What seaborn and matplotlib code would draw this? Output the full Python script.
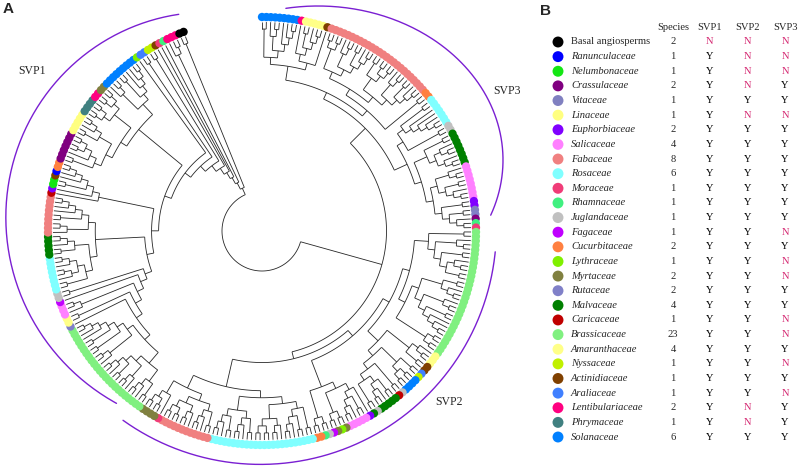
import numpy as np
import pandas as pd
import matplotlib
matplotlib.use("Agg")
import matplotlib.pyplot as plt
from matplotlib.collections import LineCollection
import seaborn as sns

sns.set_style("white")
plt.rcParams["font.family"] = ["Liberation Serif", "DejaVu Serif"]

# ---- legend table (panel B) ----
families = ["Basal angiosperms", "Ranunculaceae", "Nelumbonaceae", "Crassulaceae", "Vitaceae",
            "Linaceae", "Euphorbiaceae", "Salicaceae", "Fabaceae", "Rosaceae", "Moraceae",
            "Rhamnaceae", "Juglandaceae", "Fagaceae", "Cucurbitaceae", "Lythraceae", "Myrtaceae",
            "Rutaceae", "Malvaceae", "Caricaceae", "Brassicaceae", "Amaranthaceae", "Nyssaceae",
            "Actinidiaceae", "Araliaceae", "Lentibulariaceae", "Phrymaceae", "Solanaceae"]
codes = ["BA", "Ra", "Ne", "Cr", "Vi", "Li", "Eu", "Sa", "Fa", "Ro", "Mo", "Rh", "Ju", "Fg",
         "Cu", "Ly", "My", "Ru", "Ma", "Ca", "Br", "Am", "Ny", "Ac", "Ar", "Le", "Ph", "So"]
colors = ["#000000", "#0000ff", "#14e614", "#800080", "#8080c0", "#ffff80", "#8000ff", "#ff80ff",
          "#f08080", "#80ffff", "#f03c78", "#40f080", "#c0c0c0", "#c000ff", "#ff8040", "#80f000",
          "#808040", "#8080c8", "#008000", "#c00000", "#80f080", "#ffff88", "#c0f000", "#804000",
          "#4080ff", "#ff0080", "#408080", "#0080ff"]
species = [2, 1, 1, 2, 1, 1, 2, 4, 8, 6, 1, 1, 1, 1, 2, 1, 2, 2, 4, 1, 23, 4, 1, 1, 1, 2, 1, 6]
svp1 = list("NYYYYYYYYYYYYYYYYYYYYYYYYYYY")
svp2 = list("NNNNYNYYYYYYYYYYYYYYYYYYYNNY")
svp3 = list("NNNYYNYYYYYYYNYNNYYNNYNYNYYY")

# ---- tree topology (tips clockwise from 12 o'clock) ----
def j(*parts):
    return "(" + ",".join(parts) + ")"

# SVP3 clade
So9 = "((So,So),((So,(So,So)),(So,(So,(So,So)))))"
LeAmAc = "((Le,((Am,Am),(Am,(Am,Am)))),Ac)"
Fa12a = "(((Fa,Fa),(Fa,Fa)),((Fa,(Fa,Fa)),((Fa,Fa),(Fa,(Fa,Fa)))))"
Fa14a = "(((Fa,Fa),((Fa,Fa),(Fa,Fa))),((Fa,(Fa,Fa)),((Fa,Fa),(Fa,(Fa,Fa)))))"
Ro7 = "((Ro,Ro),(Ro,(Ro,(Ro,(Ro,Ro)))))"
Ma8 = "((Ma,Ma),((Ma,(Ma,Ma)),(Ma,(Ma,Ma))))"
Sa8 = "((Sa,(Sa,Sa)),((Sa,Sa),(Sa,(Sa,Sa))))"
tail3 = "((Eu,Eu),((Vi,Ru),(Cr,(Rh,Mo))))"
clade3 = j(j(j(So9, LeAmAc), j(j(Fa12a, Fa14a), "(Cu,Cu)")),
           j(j(Ro7, "(Ju,Ju)"), j(Ma8, j(Sa8, tail3))))

# SVP2 clade
Br12 = "((Br,Br),((Br,(Br,Br)),((Br,Br),((Br,(Br,Br)),(Br,Br)))))"
Br14 = "(((Br,Br),(Br,(Br,Br))),((Br,(Br,Br)),((Br,Br),(Br,(Br,(Br,Br))))))"
Br4 = "((Br,Br),(Br,Br))"
AmAc = "((Am,(Am,Am)),(Ac,Ac))"
ArSo = "((Ar,Ny),((So,So),(So,So)))"
JuMa = "((Ju,Ca),(((Ma,Ma),(Ma,(Ma,Ma))),(Ju,Ma)))"
EuSa = "((Eu,((Sa,Sa),(Sa,(Sa,Sa)))),((My,Ly),(My,Fg)))"
JuCu = "((Ju,Rh),(Cu,Cu))"
Ro14 = "(((Ro,Ro),((Ro,Ro),(Ro,(Ro,Ro)))),((Ro,(Ro,Ro)),((Ro,Ro),(Ro,Ro))))"
Ro10 = "(((Ro,Ro),(Ro,(Ro,Ro))),((Ro,Ro),(Ro,(Ro,Ro))))"
Fa12b = "(((Fa,Fa),(Fa,(Fa,Fa))),((Fa,(Fa,Fa)),((Fa,Fa),(Fa,Fa))))"
MoMy = "(Mo,((My,My),(My,My)))"
clade2 = j(j(j(j(Br12, j(Br14, Br4)), j(AmAc, j(ArSo, JuMa))), j(EuSa, JuCu)),
           j(j(Ro14, Ro10), j(Fa12b, MoMy)))

# SVP1 clade (a ladder ending with basal angiosperms)
Br13 = "(((Br,Br),(Br,(Br,Br))),((Br,(Br,Br)),((Br,Br),(Br,(Br,Br)))))"
Br11 = "((Br,(Br,Br)),((Br,Br),((Br,Br),(Br,(Br,(Br,Br))))))"
Ro8 = "((Ro,Ro),((Ro,(Ro,Ro)),(Ro,(Ro,Ro))))"
Ma5 = "((Ma,Ma),(Ma,(Ma,Ma)))"
Fa9 = "((Fa,(Fa,Fa)),((Fa,Fa),(Fa,(Fa,(Fa,Fa)))))"
CaCu = "(Ca,(Eu,((Ne,Ne),(Ac,(Ra,(Cu,Cu))))))"
Cr7 = "((Cr,Cr),(Cr,((Cr,Cr),(Cr,Cr))))"
Li5 = "((Li,Li),(Li,(Li,Li)))"
Ph4 = "((Ph,Ph),(Ph,Ph))"
LeMy = "((Le,Le),(My,My))"
So9b = "((So,(So,So)),((So,So),(So,(So,(So,So)))))"
spine1 = ["Ru", "(Am,Am)", "(Sa,(Sa,Sa))", "Fg", "(Ju,Ju)", j(j(Ro8, Ma5), Fa9), CaCu,
          j(j(j(Cr7, Li5), j(Ph4, LeMy)), So9b),
          "Ly", "(Ar,Ar)", "(Ny,Ny)", "Ac", "Mo", "Rh", "(Le,(Le,Le))", "(BA,BA)"]
clade1 = j(Br13, Br11)
for part in spine1:
    clade1 = j(clade1, part)

newick = j(j(clade3, clade2), clade1)


def parse(s):
    pos = 0

    def node():
        nonlocal pos
        if s[pos] == "(":
            pos += 1
            kids = [node()]
            while s[pos] == ",":
                pos += 1
                kids.append(node())
            pos += 1
            return kids
        k = pos
        while s[k].isalpha():
            k += 1
        name = s[pos:k]
        pos = k
        return name

    return node()


tree = parse(newick)

# ---- circular cladogram layout ----
cx, cy = 262, 231
r_tip, r_dot, r_root = 209, 214, 40
t_start, t_end = 90.0, -248.5


def height(n):
    return 0 if isinstance(n, str) else 1 + max(height(k) for k in n)


def count(n):
    return 1 if isinstance(n, str) else sum(count(k) for k in n)


n_tips = count(tree)
H = height(tree)
step = (r_tip - r_root) / H
dth = (t_start - t_end) / (n_tips - 1)


def xy(theta, r):
    t = np.deg2rad(theta)
    return cx + r * np.cos(t), cy - r * np.sin(t)


segs, tip_x, tip_y, tip_f = [], [], [], []
counter = [0]


def layout(n):
    if isinstance(n, str):
        th = t_start - counter[0] * dth
        counter[0] += 1
        x, y = xy(th, r_dot)
        tip_x.append(x)
        tip_y.append(y)
        tip_f.append(n)
        return th, r_tip
    kids = [layout(k) for k in n]
    r = r_tip - height(n) * step
    th = np.mean([k[0] for k in kids])
    for kt, kr in kids:
        segs.append([xy(kt, r), xy(kt, kr)])
    lo, hi = min(k[0] for k in kids), max(k[0] for k in kids)
    ts = np.linspace(lo, hi, max(2, int(hi - lo) + 2))
    segs.append([xy(t, r) for t in ts])
    return th, r


layout(tree)

fig = plt.figure(figsize=(8, 4.71), dpi=100)
ax = fig.add_axes([0, 0, 1, 1])

ax.add_collection(LineCollection(segs, colors="#262626", linewidths=0.6))

palette = dict(zip(codes, colors))
tips = pd.DataFrame({"x": tip_x, "y": tip_y, "family": tip_f})
sns.scatterplot(data=tips, x="x", y="y", hue="family", palette=palette, s=36,
                linewidth=0, legend=False, ax=ax, zorder=3)

# ---- SVP group arcs ----
arc_col = "#7a1fd2"
t = np.deg2rad(np.linspace(100.5, 243, 200))
rr = 199 + (t - t[0]) / (t[-1] - t[0]) * 18
ax.plot(215 + rr * np.cos(t), 210 - rr * np.sin(t), color=arc_col, lw=1.0)
t = np.deg2rad(np.linspace(-21, 100, 200))
ax.plot(318 + 185 * np.cos(t), 160 - 154 * np.sin(t), color=arc_col, lw=1.0)
t = np.deg2rad(np.linspace(-125.6, -5.7, 200))
ax.plot(260.4 + 236 * np.cos(t), 228.4 - 236 * np.sin(t), color=arc_col, lw=1.0)

ax.text(32, 71, "SVP1", fontsize=8.5, ha="center", va="center")
ax.text(507, 91, "SVP3", fontsize=8.5, ha="center", va="center")
ax.text(449, 402, "SVP2", fontsize=8.5, ha="center", va="center")

# ---- panel B table ----
row_y = 42 + 14.63 * np.arange(len(families))
legend = pd.DataFrame({"x": 558, "y": row_y, "family": codes})
sns.scatterplot(data=legend, x="x", y="y", hue="family", palette=palette, s=62,
                linewidth=0, legend=False, ax=ax)

fs = 7.6
for lab, xpos in zip(["Species", "SVP1", "SVP2", "SVP3"], [673, 710, 748, 785]):
    ax.text(xpos, 28, lab, fontsize=fs, ha="center", va="center")
n_col = "#d4246f"
for i, fam in enumerate(families):
    y = row_y[i]
    ax.text(571, y, fam, fontsize=fs, ha="left", va="center",
            style="normal" if i == 0 else "italic")
    ax.text(673, y, str(species[i]), fontsize=fs, ha="center", va="center")
    for xpos, v in zip([710, 748, 785], [svp1[i], svp2[i], svp3[i]]):
        ax.text(xpos, y, v, fontsize=fs, ha="center", va="center",
                color="black" if v == "Y" else n_col)

ax.text(3, 2, "A", fontsize=11, fontweight="bold", family="Liberation Sans", va="top", ha="left")
ax.text(540, 4, "B", fontsize=11, fontweight="bold", family="Liberation Sans", va="top", ha="left")

ax.set_xlim(0, 800)
ax.set_ylim(471, 0)
ax.axis("off")
fig.savefig("out.png", dpi=100)
